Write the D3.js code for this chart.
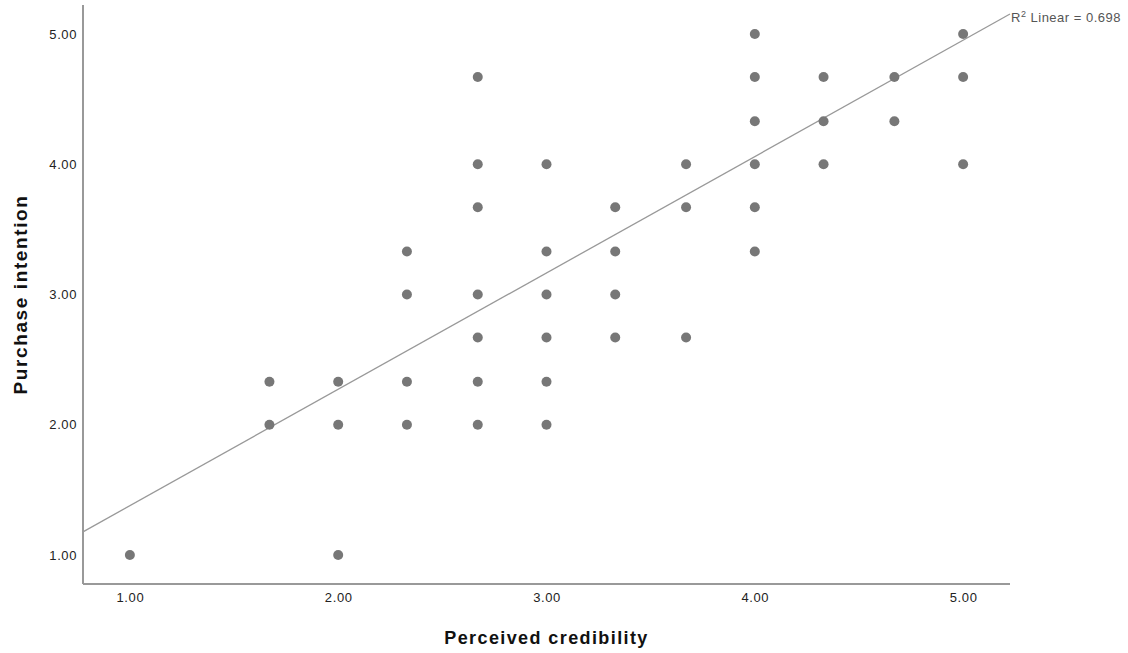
<!DOCTYPE html>
<html><head><meta charset="utf-8">
<script src="https://cdn.jsdelivr.net/npm/d3@7"></script>
<style>body{margin:0;background:#fff}svg{display:block}</style>
</head><body>
<svg id="c" width="1128" height="653"></svg>
<script>
const xVals = [1.00,1.67,1.67,2.00,2.00,2.00,2.33,2.33,2.33,2.33,2.67,2.67,2.67,2.67,2.67,2.67,2.67,3.00,3.00,3.00,3.00,3.00,3.00,3.33,3.33,3.33,3.33,3.67,3.67,3.67,4.00,4.00,4.00,4.00,4.00,4.00,4.33,4.33,4.33,4.67,4.67,5.00,5.00,5.00];
const yVals = [1.00,2.33,2.00,2.33,2.00,1.00,3.33,3.00,2.33,2.00,4.67,4.00,3.67,3.00,2.67,2.33,2.00,4.00,3.33,3.00,2.67,2.33,2.00,3.67,3.33,3.00,2.67,4.00,3.67,2.67,5.00,4.67,4.33,4.00,3.67,3.33,4.67,4.33,4.00,4.67,4.33,5.00,4.67,4.00];
const xTicks = [1,2,3,4,5];
const yTicks = [1,2,3,4,5];
const fitIntercept = 0.485;
const fitSlope = 0.8935;
const r2Label = "0.698";
const xTitle = "Perceived credibility";
const yTitle = "Purchase intention";

(function(){
const svg = d3.select("#c");
const pL = 83, pR = 1010, pT = 5, pB = 584;
const x = d3.scaleLinear().domain([0.775, 5.225]).range([pL, pR]);
const y = d3.scaleLinear().domain([0.777, 5.223]).range([pB, pT]);
const font = "Liberation Sans, Arial, sans-serif";

const xa = svg.append("g").attr("transform", `translate(0,${pB})`)
  .call(d3.axisBottom(x).tickValues(xTicks).tickFormat(d3.format(".2f")).tickSize(0).tickPadding(9));
const ya = svg.append("g").attr("transform", `translate(${pL},0)`)
  .call(d3.axisLeft(y).tickValues(yTicks).tickFormat(d3.format(".2f")).tickSize(0).tickPadding(6));
[xa, ya].forEach(g => {
  g.select(".domain").attr("stroke", "#999").attr("stroke-width", 2);
  g.selectAll("text").attr("font-family", font).attr("font-size", 13).attr("letter-spacing", 0.6).attr("fill", "#222");
});
xa.select(".domain").attr("d", `M${pL},0H${pR}`);
ya.select(".domain").attr("d", `M0,${pT}V${pB}`);

const line = d3.line().x(d => x(d)).y(d => y(fitIntercept + fitSlope * d));
svg.append("path").datum([0.775, 5.225]).attr("d", line)
  .attr("fill", "none").attr("stroke", "#999").attr("stroke-width", 1.3);

svg.append("g").selectAll("circle").data(xVals.map((v, i) => [v, yVals[i]])).join("circle")
  .attr("cx", d => x(d[0])).attr("cy", d => y(d[1])).attr("r", 5).attr("fill", "#777");

const t = svg.append("text").attr("x", pR + 1).attr("y", 22)
  .attr("font-family", font).attr("font-size", 13).attr("letter-spacing", 0.5).attr("fill", "#555");
t.append("tspan").text("R");
t.append("tspan").attr("font-size", 9).attr("dy", -5).text("2");
t.append("tspan").attr("dy", 5).text(" Linear = " + r2Label);

svg.append("text").attr("x", (x(1)+x(5))/2).attr("y", 644).attr("text-anchor", "middle")
  .attr("font-family", font).attr("font-size", 18).attr("letter-spacing", 1.4).attr("font-weight", "bold").attr("fill", "#111")
  .text(xTitle);
svg.append("text").attr("transform", `translate(27,${(y(1)+y(5))/2}) rotate(-90)`).attr("text-anchor", "middle")
  .attr("font-family", font).attr("font-size", 19).attr("letter-spacing", 1.6).attr("font-weight", "bold").attr("fill", "#111")
  .text(yTitle);
})();
</script>
</body></html>
